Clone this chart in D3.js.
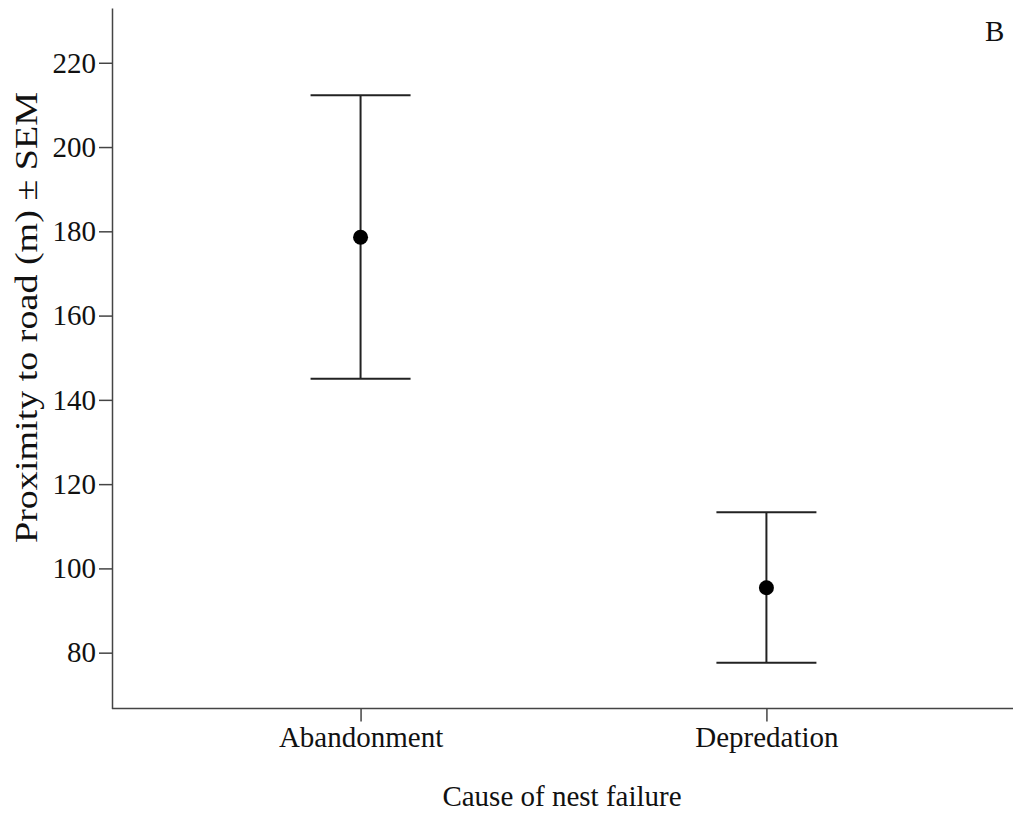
<!DOCTYPE html>
<html>
<head>
<meta charset="utf-8">
<script src="https://cdn.jsdelivr.net/npm/d3@7"></script>
<style>
  body { margin: 0; background: #fff; }
  text { font-family: "Liberation Serif", "Times New Roman", serif; fill: #111; }
</style>
</head>
<body>
<svg id="chart"></svg>
<script>
// Data
var causes = ["Abandonment", "Depredation"];
var means = [178.6, 95.4];
var upper = [212.3, 113.3];
var lower = [145.0, 77.6];
var yTicks = [80, 100, 120, 140, 160, 180, 200, 220];

var W = 1013, H = 816;
var plotLeft = 112, plotRight = 1013, plotTop = 8, plotBottom = 708.5;

var svg = d3.select("#chart")
  .attr("width", W)
  .attr("height", H);

// scales
var y = d3.scaleLinear()
  .domain([66.75, 233])
  .range([plotBottom, plotTop]);

var x = d3.scalePoint()
  .domain(causes)
  .range([plotLeft, plotRight])
  .padding(0.61)
  .align(0.502);

// y axis
var yAxis = svg.append("g")
  .attr("transform", "translate(" + plotLeft + ",0)")
  .call(d3.axisLeft(y).tickValues(yTicks).tickSize(13).tickSizeOuter(0).tickPadding(3));

// x axis
var xAxis = svg.append("g")
  .attr("transform", "translate(0," + plotBottom + ")")
  .call(d3.axisBottom(x).tickSize(13).tickSizeOuter(0).tickPadding(5));
xAxis.select(".domain").remove();
xAxis.append("line")
  .attr("x1", plotLeft).attr("x2", plotRight)
  .attr("y1", 0).attr("y2", 0)
  .attr("stroke", "#444").attr("stroke-width", 1.5);

svg.selectAll(".tick line").attr("stroke", "#444").attr("stroke-width", 1.5);
yAxis.select(".domain").attr("stroke", "#444").attr("stroke-width", 1.5);
svg.selectAll(".tick text")
  .style("font-family", "'Liberation Serif', 'Times New Roman', serif")
  .attr("fill", "#111")
  .style("font-size", "29px");

// error bars
var capHalf = 50;
var bars = svg.append("g").selectAll("g")
  .data(causes)
  .enter().append("g");

bars.append("line")
  .attr("x1", function(d) { return x(d); })
  .attr("x2", function(d) { return x(d); })
  .attr("y1", function(d, i) { return y(upper[i]); })
  .attr("y2", function(d, i) { return y(lower[i]); })
  .attr("stroke", "#222").attr("stroke-width", 2);

bars.append("line")
  .attr("x1", function(d) { return x(d) - capHalf; })
  .attr("x2", function(d) { return x(d) + capHalf; })
  .attr("y1", function(d, i) { return y(upper[i]); })
  .attr("y2", function(d, i) { return y(upper[i]); })
  .attr("stroke", "#222").attr("stroke-width", 2);

bars.append("line")
  .attr("x1", function(d) { return x(d) - capHalf; })
  .attr("x2", function(d) { return x(d) + capHalf; })
  .attr("y1", function(d, i) { return y(lower[i]); })
  .attr("y2", function(d, i) { return y(lower[i]); })
  .attr("stroke", "#222").attr("stroke-width", 2);

bars.append("circle")
  .attr("cx", function(d) { return x(d); })
  .attr("cy", function(d, i) { return y(means[i]); })
  .attr("r", 7.5)
  .attr("fill", "#000");

// axis titles
svg.append("text")
  .attr("transform", "translate(37,317.5) rotate(-90)")
  .attr("text-anchor", "middle")
  .style("font-size", "32px")
  .attr("textLength", 451)
  .attr("lengthAdjust", "spacingAndGlyphs")
  .text("Proximity to road (m) \u00B1 SEM");

svg.append("text")
  .attr("x", 562)
  .attr("y", 806)
  .attr("text-anchor", "middle")
  .style("font-size", "29px")
  .text("Cause of nest failure");

// panel letter
svg.append("text")
  .attr("x", 985)
  .attr("y", 41)
  .style("font-size", "29px")
  .text("B");
</script>
</body>
</html>
